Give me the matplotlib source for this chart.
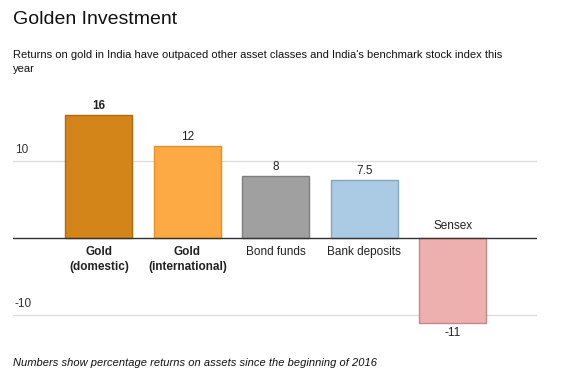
import matplotlib.pyplot as plt
import numpy as np

plt.rcParams["font.family"] = ["Liberation Sans", "DejaVu Sans"]

categories = ["Gold\n(domestic)", "Gold\n(international)", "Bond funds", "Bank deposits", "Sensex"]
returns = [16, 12, 8, 7.5, -11]
value_labels = ["16", "12", "8", "7.5", "-11"]
bold_value = [True, False, False, False, False]
bold_label = [True, True, False, False, False]
colors = ["#D4851A", "#FDA944", "#A0A0A0", "#AACBE3", "#EEAFAF"]
edges = ["#B0690F", "#E48E2C", "#7E7E7E", "#87A5BD", "#C48A8A"]
grid_values = [10, -10]

fig = plt.figure(figsize=(5.63, 3.81), dpi=100)
# axes: x 13..537 px, y 100..330 px (from top)
ax = fig.add_axes([13 / 563, 1 - 330 / 381, 524 / 563, 230 / 381])
ax.set_xlim(-0.97, 4.95)
zero_px = 238
scale = 7.7
ax.set_ylim(-(330 - zero_px) / scale, (zero_px - 100) / scale)
ax.axis("off")

x = np.arange(len(categories))
for gv in grid_values:
    ax.axhline(gv, color="#DDDDDD", linewidth=1, zorder=1)
    ax.text(-0.95, gv + 0.6, str(gv), ha="left", va="bottom", fontsize=8.5, color="#333333")
ax.axhline(0, color="#333333", linewidth=1, zorder=3)

ax.bar(x, returns, width=0.757, color=colors, edgecolor=edges, linewidth=1, zorder=2)

for xi, v, lab, vl, bv, bl in zip(x, returns, categories, value_labels, bold_value, bold_label):
    wv = "bold" if bv else "normal"
    wl = "bold" if bl else "normal"
    if v >= 0:
        ax.text(xi, v + 0.4, vl, ha="center", va="bottom", fontsize=8.5, color="#222222", fontweight=wv)
        ax.text(xi, -1.0, lab, ha="center", va="top", fontsize=8.5, color="#222222",
                fontweight=wl, linespacing=1.4)
    else:
        ax.text(xi, v - 0.6, vl, ha="center", va="top", fontsize=8.5, color="#222222", fontweight=wv)
        ax.text(xi, 0.8, lab, ha="center", va="bottom", fontsize=8.5, color="#222222", fontweight=wl)

fig.text(13 / 563, 1 - 19 / 381, "Golden Investment", ha="left", va="center", fontsize=14, color="#111111")
fig.text(13 / 563, 1 - 62 / 381,
         "Returns on gold in India have outpaced other asset classes and India's benchmark stock index this\nyear",
         ha="left", va="center", fontsize=8, color="#111111", linespacing=1.55)
fig.text(13 / 563, 1 - 363 / 381, "Numbers show percentage returns on assets since the beginning of 2016",
         ha="left", va="center", fontsize=8, style="italic", color="#111111")

fig.savefig("out.png", dpi=100)
